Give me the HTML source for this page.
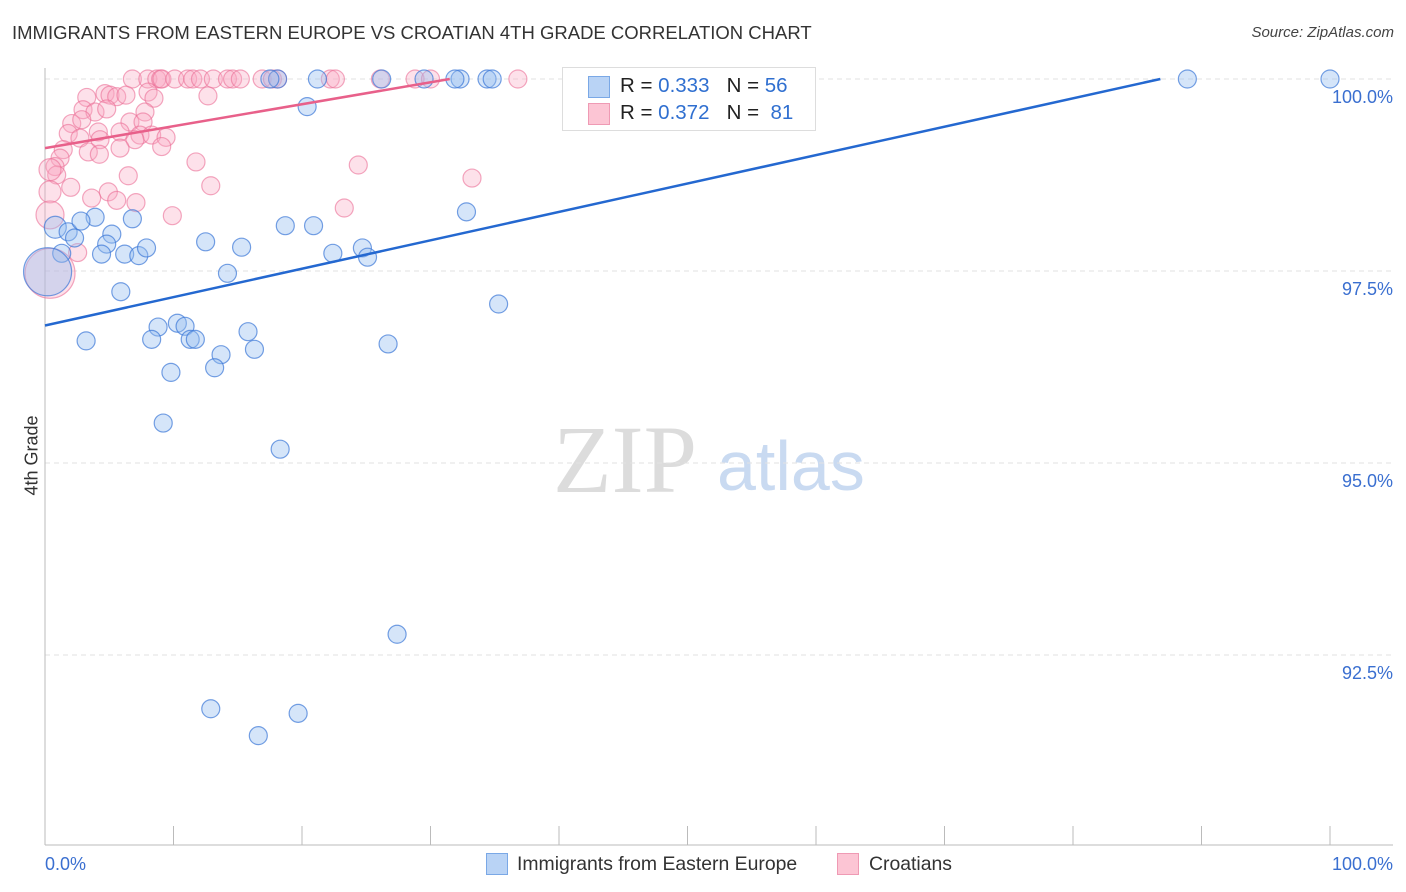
<!DOCTYPE html>
<html><head><meta charset="utf-8">
<style>
body{margin:0;background:#fff;font-family:"Liberation Sans",sans-serif;}
#wrap{position:relative;width:1406px;height:892px;overflow:hidden;}
.t{position:absolute;white-space:nowrap;}
</style></head>
<body>
<div id="wrap">
<div class="t" style="left:12px;top:22px;font-size:18.5px;color:#333;">IMMIGRANTS FROM EASTERN EUROPE VS CROATIAN 4TH GRADE CORRELATION CHART</div>
<div class="t" style="right:12px;top:24px;font-size:15px;color:#444;font-style:italic;">Source: ZipAtlas.com</div>
<div class="t" style="left:-8px;top:445px;font-size:18px;color:#333;transform:rotate(-90deg);">4th Grade</div>
<svg id="plot" width="1406" height="892" style="position:absolute;left:0;top:0"></svg>
<div style="position:absolute;left:562px;top:67px;width:252px;height:62px;border:1px solid #ddd;background:#fff;">
 <div style="position:absolute;left:25px;top:8px;width:20px;height:20px;background:#b9d3f5;border:1px solid #7aa8e6;"></div>
 <div class="t" style="left:57px;top:6px;font-size:20.5px;color:#222;">R = <span style="color:#2f6fd0">0.333</span>&nbsp;&nbsp;&nbsp;N = <span style="color:#2f6fd0">56</span></div>
 <div style="position:absolute;left:25px;top:35px;width:20px;height:20px;background:#fcc5d4;border:1px solid #ef9ab4;"></div>
 <div class="t" style="left:57px;top:33px;font-size:20.5px;color:#222;">R = <span style="color:#2f6fd0">0.372</span>&nbsp;&nbsp;&nbsp;N = &nbsp;<span style="color:#2f6fd0">81</span></div>
</div>
<div style="position:absolute;left:486px;top:853px;">
 <div style="position:absolute;left:0;top:0;width:20px;height:20px;background:#b9d3f5;border:1px solid #7aa8e6;"></div>
 <div class="t" style="left:31px;top:0px;font-size:19.4px;color:#333;">Immigrants from Eastern Europe</div>
</div>
<div style="position:absolute;left:837px;top:853px;">
 <div style="position:absolute;left:0;top:0;width:20px;height:20px;background:#fcc5d4;border:1px solid #ef9ab4;"></div>
 <div class="t" style="left:32px;top:0px;font-size:19.4px;color:#333;">Croatians</div>
</div>
</div>
<script>
const blueX=[100,88.9,32.3,31.9,34.4,34.8,29.5,26.2,21.2,18.1,17.5,20.4,32.8,35.3,0.8,1.8,2.3,1.3,3.9,2.8,5.2,4.8,4.4,6.2,7.3,7.9,6.8,12.5,15.3,14.2,18.7,20.9,22.4,24.7,25.1,5.9,3.2,8.8,8.3,10.3,10.9,11.3,11.7,15.8,13.7,16.3,13.2,9.8,26.7,9.2,18.3,27.4,12.9,19.7,16.6,0.2];
const blueY=[100,100,100,100,100,100,100,100,100,100,100,99.64,98.27,97.07,98.07,98.01,97.93,97.73,98.2,98.15,97.98,97.85,97.72,97.72,97.7,97.8,98.18,97.88,97.81,97.47,98.09,98.09,97.73,97.8,97.68,97.23,96.59,96.77,96.61,96.82,96.78,96.61,96.61,96.71,96.41,96.48,96.24,96.18,96.55,95.52,95.18,92.77,91.8,91.74,91.45,97.49];
const pinkX=[6.8,8.0,8.7,9.0,9.1,10.1,11.1,11.5,12.1,13.1,14.2,14.6,15.2,16.9,17.7,18.1,22.2,22.6,26.1,28.8,30.0,36.8,3.25,4.67,5.06,5.58,6.30,8.02,8.48,12.68,2.96,3.89,4.80,2.08,2.86,6.61,7.78,7.63,1.81,2.72,4.15,5.84,7.39,8.30,9.42,4.28,7.00,9.08,1.42,3.37,4.23,5.84,1.17,0.78,0.91,0.39,11.75,6.48,2.0,12.9,24.38,33.23,0.39,4.93,3.63,5.58,7.08,23.29,9.91,0.39,2.54,0.39];
const pinkY=[100,100,100,100,100,100,100,100,100,100,100,100,100,100,100,100,100,100,100,100,100,100,99.76,99.81,99.79,99.77,99.79,99.83,99.75,99.78,99.60,99.57,99.61,99.42,99.47,99.44,99.57,99.44,99.29,99.23,99.31,99.31,99.27,99.27,99.24,99.21,99.21,99.12,99.08,99.05,99.02,99.10,98.97,98.86,98.75,98.82,98.92,98.74,98.59,98.61,98.88,98.71,98.53,98.53,98.45,98.42,98.39,98.32,98.22,98.23,97.74,97.47];
const blueTrend=[0,96.79,86.8,100];
const pinkTrend=[0,99.10,31.5,100];
const yTicks=[100,97.5,95,92.5];
const yTickLabels=["100.0%","97.5%","95.0%","92.5%"];
const xTicks=[0,10,20,30,40,50,60,70,80,90,100];

const sx=v=>45+v*12.85;
const sy=v=>79+(100-v)*76.8;
const svg=document.getElementById('plot');
const NS='http://www.w3.org/2000/svg';
function mk(tag,attrs){const e=document.createElementNS(NS,tag);for(const k in attrs)e.setAttribute(k,attrs[k]);svg.appendChild(e);return e;}

let w1=mk('text',{x:553,y:492,'font-size':96,fill:'#dcdcdc','font-family':'Liberation Serif, serif'});w1.textContent='ZIP';


let w2=mk('text',{x:717,y:490,'font-size':70,fill:'#c9daf1','font-family':'Liberation Sans, sans-serif'});w2.textContent='atlas';



yTicks.forEach((v,i)=>{
 const g=mk('line',{x1:45,x2:1393,y1:sy(v),y2:sy(v),stroke:'#e2e2e2','stroke-dasharray':'5,4'});
 
 
 const t=mk('text',{x:1393,y:sy(v)+24,'text-anchor':'end','font-size':18,fill:'#3a6fd0','font-family':'Liberation Sans, sans-serif'});
 t.textContent=yTickLabels[i];
 
 
});
const ax=mk('line',{x1:45,x2:45,y1:68,y2:845,stroke:'#bbb'});


const bx=mk('line',{x1:45,x2:1393,y1:845,y2:845,stroke:'#bbb'});


xTicks.forEach(v=>{
 const l=mk('line',{x1:sx(v),x2:sx(v),y1:826,y2:845,stroke:'#bbb'});
 
 
});
const xl=mk('text',{x:45,y:870,'font-size':18,fill:'#3a6fd0','font-family':'Liberation Sans, sans-serif'});xl.textContent='0.0%';


const xr=mk('text',{x:1393,y:870,'text-anchor':'end','font-size':18,fill:'#3a6fd0','font-family':'Liberation Sans, sans-serif'});xr.textContent='100.0%';



function big(x,y){return x<0.5&&y<97.6&&y>97.4;}
pinkX.forEach((x,i)=>{
 const y=pinkY[i];
 let r=big(x,y)?25:(x<0.5&&y>98.2&&y<98.25?14:(x<0.5?11:9));
 const c=mk('circle',{cx:sx(x),cy:sy(y),r:r,fill:'rgba(250,170,195,0.35)',stroke:'rgba(235,110,150,0.6)','stroke-width':1.2});
 
 
});
blueX.forEach((x,i)=>{
 const y=blueY[i];
 const c=mk('circle',{cx:sx(x),cy:sy(y),r:big(x,y)?24:(x<1?11:9),fill:'rgba(150,190,240,0.4)',stroke:'rgba(60,120,215,0.7)','stroke-width':1.2});
 
 
});
const bl=mk('line',{x1:sx(blueTrend[0]),y1:sy(blueTrend[1]),x2:sx(blueTrend[2]),y2:sy(blueTrend[3]),stroke:'#2468d0','stroke-width':2.5});


const pl=mk('line',{x1:sx(pinkTrend[0]),y1:sy(pinkTrend[1]),x2:sx(pinkTrend[2]),y2:sy(pinkTrend[3]),stroke:'#e8608a','stroke-width':2.5});


</script>
</body></html>
